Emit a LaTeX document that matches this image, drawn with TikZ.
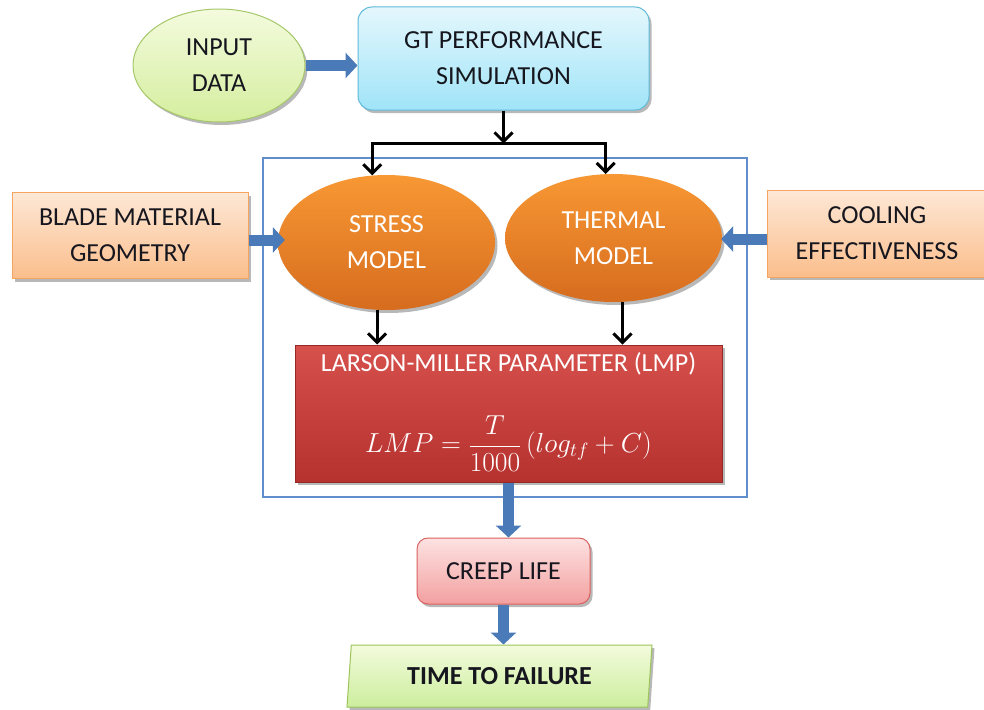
\RequirePackage{fix-cm}
\documentclass[tikz,border=0pt]{standalone}
\usepackage{fontspec}
\setmainfont{Carlito}
\usetikzlibrary{arrows.meta,shapes.geometric,shadows,calc}

\definecolor{arrowblue}{RGB}{74,122,184}
\definecolor{framecol}{RGB}{96,142,204}
\definecolor{inktext}{RGB}{22,22,30}
\definecolor{gtTop}{RGB}{228,247,252}
\definecolor{gtBot}{RGB}{160,228,248}
\definecolor{gtLine}{RGB}{96,186,218}
\definecolor{inTop}{RGB}{244,251,222}
\definecolor{inBot}{RGB}{212,238,158}
\definecolor{inLine}{RGB}{166,200,106}
\definecolor{orTop}{RGB}{253,232,214}
\definecolor{orBot}{RGB}{251,190,140}
\definecolor{orLine}{RGB}{245,165,95}
\definecolor{mdTop}{RGB}{248,152,52}
\definecolor{mdBot}{RGB}{214,108,30}
\definecolor{rdTop}{RGB}{214,80,76}
\definecolor{rdBot}{RGB}{182,50,47}
\definecolor{rdLine}{RGB}{150,40,38}
\definecolor{ckTop}{RGB}{253,226,226}
\definecolor{ckBot}{RGB}{243,160,160}
\definecolor{ckLine}{RGB}{218,98,95}
\definecolor{tfTop}{RGB}{243,251,220}
\definecolor{tfBot}{RGB}{204,238,158}
\definecolor{tfLine}{RGB}{156,196,90}

\begin{document}
\begin{tikzpicture}[x=1pt,y=-1pt,
  base/.style={align=center, font=\fontsize{26}{36}\selectfont, text=inktext, inner sep=0pt},
  shadowed/.style={drop shadow={shadow xshift=2.5pt, shadow yshift=-3pt, opacity=0.28, fill=black}},
  framebox/.style={draw=framecol, line width=1.3pt, minimum width=484pt, minimum height=339pt, inner sep=0pt},
  inputell/.style={base, ellipse, shadowed, draw=inLine, line width=1pt, top color=inTop, bottom color=inBot,
    minimum width=172pt, minimum height=113pt},
  gtbox/.style={base, rectangle, rounded corners=14pt, shadowed, draw=gtLine, line width=1pt,
    top color=gtTop, bottom color=gtBot, minimum width=291pt, minimum height=103pt},
  sidebox/.style={base, rectangle, shadowed, draw=orLine, line width=1pt, top color=orTop, bottom color=orBot,
    minimum width=236pt, minimum height=86pt},
  modelell/.style={base, ellipse, shadowed, text=white, top color=mdTop, bottom color=mdBot,
    minimum width=217pt, minimum height=135pt},
  lmpbox/.style={base, rectangle, shadowed, draw=rdLine, line width=1pt, top color=rdTop, bottom color=rdBot,
    minimum width=427pt, minimum height=137pt},
  creepbox/.style={base, rectangle, rounded corners=11pt, shadowed, draw=ckLine, line width=1pt,
    top color=ckTop, bottom color=ckBot, minimum width=173pt, minimum height=66pt},
  timebox/.style={base, trapezium, trapezium left angle=76, trapezium right angle=104,
    trapezium stretches body, shadowed, draw=tfLine, line width=1pt, top color=tfTop, bottom color=tfBot,
    minimum width=305pt, minimum height=62pt},
  whitetext/.style={base, text=white},
  blk/.style={draw=black, line width=3pt, line join=miter, -{Straight Barb[length=9pt,width=18pt]}},
  fat/.style={draw=arrowblue, line width=11pt, -{Triangle[length=12pt,width=25pt]}}
]
\useasboundingbox (0,0) rectangle (984,709);
\fill[white] (0,0) rectangle (984,709);

% enclosing frame of the life model
\node[framebox] (frame) at (505,327.5) {};

% nodes
\node[inputell] (input) at (219,65.5) {INPUT\\DATA};
\node[gtbox] (gt) at (503.5,58.5) {GT PERFORMANCE\\SIMULATION};
\node[sidebox] (blade) at (130,235.5) {BLADE MATERIAL\\GEOMETRY};
\node[sidebox, minimum width=220pt, minimum height=87pt] (cooling) at (877,233.5) {COOLING\\EFFECTIVENESS};
\node[modelell] (stress) at (386.5,242.5) {STRESS\\MODEL};
\node[modelell, minimum height=128pt] (thermal) at (613.5,238) {THERMAL\\MODEL};
\node[lmpbox] (lmp) at (508.5,413.5) {};
\node[whitetext] (lmptitle) at ($(lmp.north)+(0,19)$) {LARSON-MILLER PARAMETER (LMP)};
\node[whitetext, font=\fontsize{27.5}{36}\selectfont] (lmpeq) at ($(lmp.center)+(0,30)$)
  {$\displaystyle LMP=\frac{T}{1000}\,(log_{tf}+C)$};
\node[creepbox] (creep) at (503.5,571) {CREEP LIFE};
\node[timebox] (time) at (499.5,676) {\bfseries TIME TO FAILURE};

% black connectors
\coordinate (split) at ($(gt.south)+(0,33)$);
\draw[blk] (gt.south) -- (split);
\draw[blk] (split) -| (stress.102);
\draw[blk] (split) -| (thermal.97);
\draw[blk] (stress.262) -- (stress.262 |- lmp.north);
\draw[blk] (thermal.278) -- (thermal.278 |- lmp.north);

% blue block arrows
\draw[fat] (input.east) -- (input.east -| gt.west);
\draw[fat] ($(blade.east)+(0,4.5)$) -- ($(blade.east -| stress.west)+(7,4.5)$);
\draw[fat] ($(cooling.west)+(0,5.5)$) -- ($(cooling.west -| thermal.east)+(-1,5.5)$);
\draw[fat] (lmp.south) -- (lmp.south |- creep.north);
\draw[fat] (creep.south) -- (creep.south |- time.north);
\end{tikzpicture}
\end{document}
